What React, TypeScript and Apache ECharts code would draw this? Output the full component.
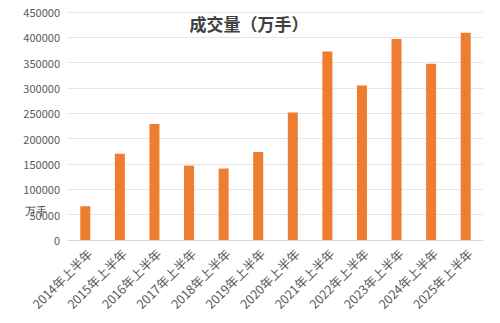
import React, { useEffect, useRef } from "react";
import * as echarts from "echarts";

const categories = [
  "2014年上半年", "2015年上半年", "2016年上半年", "2017年上半年",
  "2018年上半年", "2019年上半年", "2020年上半年", "2021年上半年",
  "2022年上半年", "2023年上半年", "2024年上半年", "2025年上半年",
];
const volumes = [66600, 170000, 229000, 146800, 141000, 173500, 251500, 372000, 305000, 396500, 347800, 409000];
const yTicks = { min: 0, max: 450000, interval: 50000 };
const titleText = "成交量（万手）";
const unitText = "万手";

export default function App() {
  const ref = useRef<HTMLDivElement>(null);
  useEffect(() => {
    const chart = echarts.init(ref.current!, null, { renderer: "svg" });
    chart.setOption({
      animation: false,
      backgroundColor: "#ffffff",
      textStyle: { fontFamily: "'Noto Sans CJK SC', 'Noto Sans', sans-serif" },
      title: {
        text: titleText,
        left: 244,
        top: 10,
        textAlign: "center",
        textStyle: { fontSize: 17, fontWeight: "bold", color: "#404040" },
      },
      graphic: {
        elements: [
          {
            type: "text",
            left: 25,
            top: 205,
            style: { text: unitText, fontSize: 11, fill: "#404040" },
          },
        ],
      },
      grid: { left: 68, right: 17, top: 12, bottom: 83 },
      xAxis: {
        type: "category",
        data: categories,
        axisLine: { lineStyle: { color: "#d9d9d9" } },
        axisTick: { show: false },
        axisLabel: {
          rotate: 45,
          fontSize: 12.5,
          color: "#595959",
          margin: 7,
          interval: 0,
          verticalAlign: "top",
        },
      },
      yAxis: {
        type: "value",
        min: yTicks.min,
        max: yTicks.max,
        interval: yTicks.interval,
        axisLine: { show: false },
        axisTick: { show: false },
        axisLabel: {
          fontSize: 11,
          color: "#595959",
          margin: 8,
          formatter: (v: number) => String(v),
        },
        splitLine: { lineStyle: { color: "#e6e6e6" } },
      },
      series: [
        {
          type: "bar",
          data: volumes,
          barWidth: 10,
          itemStyle: { color: "#ED7D31" },
        },
      ],
    });
    return () => chart.dispose();
  }, []);
  return (
    <div style={{ position: "relative", width: 500, height: 323, margin: -8 }}>
      <div ref={ref} style={{ width: 500, height: 323 }} />
      <div
        style={{
          position: "absolute",
          left: 3,
          top: 3,
          width: 491,
          height: 314,
          border: "1px solid #d0d0d0",
          pointerEvents: "none",
        }}
      />
    </div>
  );
}
